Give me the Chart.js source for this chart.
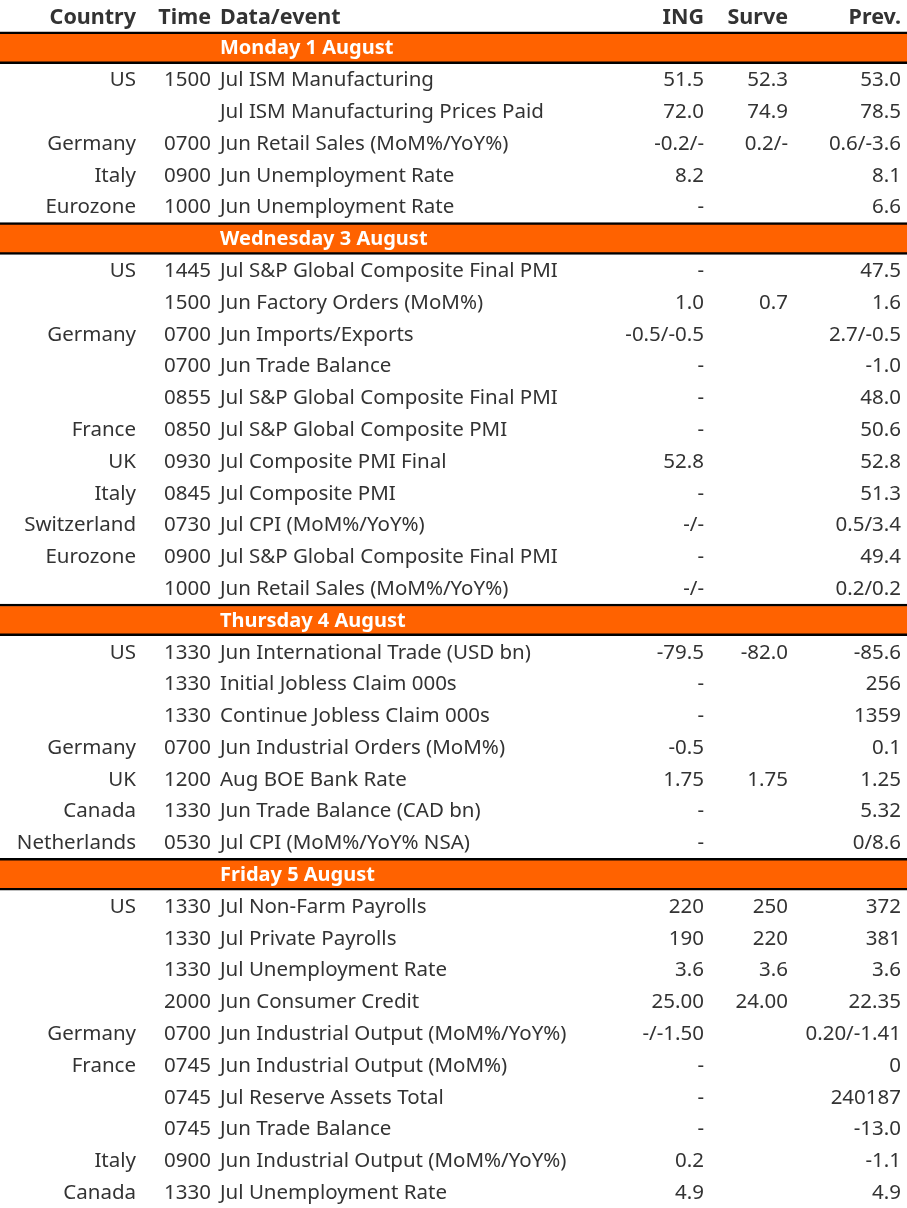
<!DOCTYPE html>
<html>
<head>
<meta charset="utf-8">
<script src="https://cdn.jsdelivr.net/npm/chart.js@4"></script>
<style>
  html, body { margin: 0; padding: 0; background: #fff; }
  #box { position: relative; width: 907px; height: 1208px; }
</style>
</head>
<body>
<div id="box"><canvas id="tabela"></canvas></div>
<script>
// header of the table
var headers = ['Country', 'Time', 'Data/event', 'ING', 'Surve', 'Prev.'];

// day bands and how many rows under each one
var days = ['Monday 1 August', 'Wednesday 3 August', 'Thursday 4 August', 'Friday 5 August'];
var dayRows = [5, 11, 7, 10];

// one entry per event row
var country = ['US', '', 'Germany', 'Italy', 'Eurozone',
  'US', '', 'Germany', '', '', 'France', 'UK', 'Italy', 'Switzerland', 'Eurozone', '',
  'US', '', '', 'Germany', 'UK', 'Canada', 'Netherlands',
  'US', '', '', '', 'Germany', 'France', '', '', 'Italy', 'Canada'];

var time = ['1500', '', '0700', '0900', '1000',
  '1445', '1500', '0700', '0700', '0855', '0850', '0930', '0845', '0730', '0900', '1000',
  '1330', '1330', '1330', '0700', '1200', '1330', '0530',
  '1330', '1330', '1330', '2000', '0700', '0745', '0745', '0745', '0900', '1330'];

var events = ['Jul ISM Manufacturing', 'Jul ISM Manufacturing Prices Paid', 'Jun Retail Sales (MoM%/YoY%)',
  'Jun Unemployment Rate', 'Jun Unemployment Rate',
  'Jul S&P Global Composite Final PMI', 'Jun Factory Orders (MoM%)', 'Jun Imports/Exports', 'Jun Trade Balance',
  'Jul S&P Global Composite Final PMI', 'Jul S&P Global Composite PMI', 'Jul Composite PMI Final',
  'Jul Composite PMI', 'Jul CPI (MoM%/YoY%)', 'Jul S&P Global Composite Final PMI', 'Jun Retail Sales (MoM%/YoY%)',
  'Jun International Trade (USD bn)', 'Initial Jobless Claim 000s', 'Continue Jobless Claim 000s',
  'Jun Industrial Orders (MoM%)', 'Aug BOE Bank Rate', 'Jun Trade Balance (CAD bn)', 'Jul CPI (MoM%/YoY% NSA)',
  'Jul Non-Farm Payrolls', 'Jul Private Payrolls', 'Jul Unemployment Rate', 'Jun Consumer Credit',
  'Jun Industrial Output (MoM%/YoY%)', 'Jun Industrial Output (MoM%)', 'Jul Reserve Assets Total',
  'Jun Trade Balance', 'Jun Industrial Output (MoM%/YoY%)', 'Jul Unemployment Rate'];

var ing = ['51.5', '72.0', '-0.2/-', '8.2', '-',
  '-', '1.0', '-0.5/-0.5', '-', '-', '-', '52.8', '-', '-/-', '-', '-/-',
  '-79.5', '-', '-', '-0.5', '1.75', '-', '-',
  '220', '190', '3.6', '25.00', '-/-1.50', '-', '-', '-', '0.2', '4.9'];

var survey = ['52.3', '74.9', '0.2/-', '', '',
  '', '0.7', '', '', '', '', '', '', '', '', '',
  '-82.0', '', '', '', '1.75', '', '',
  '250', '220', '3.6', '24.00', '', '', '', '', '', ''];

var prev = ['53.0', '78.5', '0.6/-3.6', '8.1', '6.6',
  '47.5', '1.6', '2.7/-0.5', '-1.0', '48.0', '50.6', '52.8', '51.3', '0.5/3.4', '49.4', '0.2/0.2',
  '-85.6', '256', '1359', '0.1', '1.25', '5.32', '0/8.6',
  '372', '381', '3.6', '22.35', '0.20/-1.41', '0', '240187', '-13.0', '-1.1', '4.9'];

// montar linhas: header, depois banda do dia + eventos
var rows = [{ tipo: 'head', cells: headers }];
var k = 0;
for (var d = 0; d < days.length; d++) {
  rows.push({ tipo: 'dia', cells: [days[d]] });
  for (var j = 0; j < dayRows[d]; j++) {
    rows.push({ tipo: 'linha', cells: [country[k], time[k], events[k], ing[k], survey[k], prev[k]] });
    k++;
  }
}

var labels = rows.map(function (r, i) { return 'r' + i; });
var bandas = rows.map(function (r) { return r.tipo == 'dia' ? [0, 907] : null; });

// x anchor and alignment of each column
var colX = [136, 211, 220, 704, 788, 901];
var colAlign = ['right', 'right', 'left', 'right', 'right', 'right'];

var fonte = '"Noto Sans", sans-serif';
var corTexto = '#333333';

var textoPlugin = {
  id: 'textoTabela',
  afterDatasetsDraw: function (chart) {
    var ctx = chart.ctx;
    var xs = chart.scales.x;
    var ys = chart.scales.y;
    ctx.save();
    ctx.textBaseline = 'middle';
    rows.forEach(function (r, i) {
      var y = ys.getPixelForValue(i) + 1;
      if (r.tipo == 'dia') {
        ctx.font = 'bold 20px ' + fonte;
        ctx.fillStyle = '#ffffff';
        ctx.textAlign = 'left';
        ctx.fillText(r.cells[0], xs.getPixelForValue(colX[2]), y);
        return;
      }
      if (r.tipo == 'head') {
        ctx.font = 'bold 21.5px ' + fonte;
        y += 1;
      } else {
        ctx.font = '20.5px ' + fonte;
      }
      ctx.fillStyle = corTexto;
      r.cells.forEach(function (c, n) {
        if (!c) return;
        ctx.textAlign = colAlign[n];
        ctx.fillText(c, xs.getPixelForValue(colX[n]), y);
      });
    });
    ctx.restore();
  }
};

var ctx = document.getElementById('tabela').getContext('2d');
var tabela = new Chart(ctx, {
  type: 'bar',
  data: {
    labels: labels,
    datasets: [{
      data: bandas,
      backgroundColor: '#ff6200',
      borderColor: '#000000',
      borderWidth: { top: 2.5, bottom: 2.5, left: 0, right: 0 },
      borderSkipped: false,
      barPercentage: 1,
      categoryPercentage: 1
    }]
  },
  options: {
    indexAxis: 'y',
    responsive: true,
    maintainAspectRatio: false,
    animation: false,
    layout: { padding: 0 },
    plugins: { legend: { display: false }, tooltip: { enabled: false } },
    scales: {
      x: { type: 'linear', min: 0, max: 907, display: false },
      y: { display: false }
    }
  },
  plugins: [textoPlugin]
});
</script>
</body>
</html>
